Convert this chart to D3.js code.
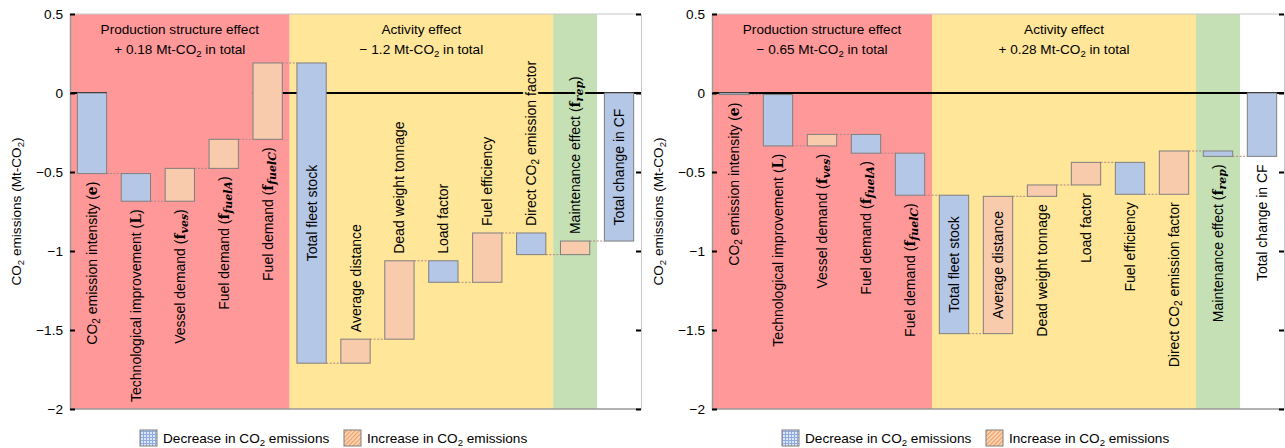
<!DOCTYPE html>
<html>
<head>
<meta charset="utf-8">
<script src="https://cdn.jsdelivr.net/npm/d3@7"></script>
<style>
  body { margin: 0; background: #fff; }
  svg { display: block; font-family: "Liberation Sans", Arial, sans-serif; }
</style>
</head>
<body>
<svg id="chart" width="1285" height="448"></svg>
<script>
// Bar categories, in drawing order (last one is the total bar)
const categories = ["e", "L", "ves", "fuelA", "fuelC", "fleet", "distance", "dwt",
  "load", "fuelEff", "directEF", "maintenance", "total"];

// Label text pieces: [text, style] where style is "" / "sub" / "m" (math bold) / "msub"
const categoryLabels = [
  [["CO"], ["2", "sub"], [" emission intensity ("], ["e", "m"], [")"]],
  [["Technological improvement ("], ["L", "m"], [")"]],
  [["Vessel demand ("], ["f", "m"], ["ves", "msub"], [")"]],
  [["Fuel demand ("], ["f", "m"], ["fuelA", "msub"], [")"]],
  [["Fuel demand ("], ["f", "m"], ["fuelC", "msub"], [")"]],
  [["Total fleet stock"]],
  [["Average distance"]],
  [["Dead weight tonnage"]],
  [["Load factor"]],
  [["Fuel efficiency"]],
  [["Direct CO"], ["2", "sub"], [" emission factor"]],
  [["Maintenance effect ("], ["f", "m"], ["rep", "msub"], [")"]],
  [["Total change in CF"]]
];

// Changes in Mt-CO2, left and right panels
const leftDeltas = [-0.51, -0.175, 0.208, 0.184, 0.483, -1.90, 0.152, 0.496, -0.136, 0.312, -0.137, 0.086];
const rightDeltas = [-0.01, -0.325, 0.073, -0.119, -0.266, -0.876, 0.869, 0.072, 0.143, -0.202, 0.274, -0.034];

const sectionTitles = ["Production structure effect", "Activity effect"];
const leftSectionTotals = ["+ 0.18", "\u2212 1.2"];
const rightSectionTotals = ["\u2212 0.65", "+ 0.28"];

const yTicks = [0.5, 0, -0.5, -1, -1.5, -2];

// where each bar label sits
const leftLabelPos = ["below", "below", "below", "below", "below", "inside",
  "above", "above", "above", "above", "above", "above", "inside"];
const rightLabelPos = ["below", "below", "below", "below", "below", "inside",
  "inside", "below", "below", "below", "below", "below", "below"];

const legendItems = [
  [["Decrease in CO"], ["2", "sub"], [" emissions"]],
  [["Increase in CO"], ["2", "sub"], [" emissions"]]
];

const svg = d3.select("#chart");
const plotTop = 14, plotBottom = 409;
const y = d3.scaleLinear().domain([-2, 0.5]).range([plotBottom, plotTop]);

const RED = "#ff9999", YELLOW = "#ffe699", GREEN = "#c5e0b4";
const BLUE = "#b4c7e7", ORANGE = "#f8cbad";
const FS = 13.6, LFS = 14;

// legend patterns
const defs = svg.append("defs");
const pb = defs.append("pattern").attr("id", "patBlue").attr("width", 3).attr("height", 3)
  .attr("patternUnits", "userSpaceOnUse");
pb.append("rect").attr("width", 3).attr("height", 3).attr("fill", "#8faadc");
pb.append("rect").attr("width", 2).attr("height", 2).attr("fill", "#dde6f5");
const po = defs.append("pattern").attr("id", "patOrange").attr("width", 3).attr("height", 3)
  .attr("patternUnits", "userSpaceOnUse").attr("patternTransform", "rotate(45)");
po.append("rect").attr("width", 3).attr("height", 3).attr("fill", "#fbe0cc");
po.append("rect").attr("width", 1.5).attr("height", 3).attr("fill", "#f4a060");

// add tspans (with subscripts / math italics) to a text selection
function appendSegs(t, segs, baseSize) {
  let shift = 0;
  segs.forEach(([txt, st]) => {
    const ts = t.append("tspan").text(txt);
    const sub = st === "sub" || st === "msub";
    const s = sub ? 3 : 0;
    if (s - shift) ts.attr("dy", s - shift);
    shift = s;
    if (sub) ts.attr("font-size", st === "msub" ? baseSize - 3 : baseSize - 4);
    if (st === "m" || st === "msub") ts.attr("font-family", "'DejaVu Serif', serif").attr("font-weight", "bold");
    if (st === "msub") ts.attr("font-style", "italic");
  });
}

function waterfall(deltas) {
  let cum = 0;
  const rows = deltas.map((d, i) => {
    const start = cum;
    cum += d;
    return { i, start, end: cum, inc: d > 0 };
  });
  rows.push({ i: deltas.length, start: 0, end: cum, inc: false });
  return rows;
}

function bandColor(i) {
  if (i < 5) return RED;
  if (i < 11) return YELLOW;
  if (i < 12) return GREEN;
  return "#fff";
}

function drawPanel(x0, x1, deltas, totals, labelPos, titleBoxH) {
  const g = svg.append("g");
  const x = d3.scaleBand().domain(categories).range([x0, x1])
    .paddingInner(1 / 3).paddingOuter(1 / 6);
  const step = x.step();
  const bandLeft = i => x0 + i * step;

  // effect regions
  const spans = [[0, 5, RED], [5, 11, YELLOW], [11, 12, GREEN]];
  g.selectAll(".region").data(spans).enter().append("rect")
    .attr("x", d => bandLeft(d[0]))
    .attr("y", plotTop)
    .attr("width", d => (d[1] - d[0]) * step)
    .attr("height", plotBottom - plotTop)
    .attr("fill", d => d[2]);

  // zero line
  g.append("line").attr("x1", x0).attr("x2", x1).attr("y1", y(0)).attr("y2", y(0))
    .attr("stroke", "#000").attr("stroke-width", 2);

  // section titles (text boxes with region colour fill)
  [[0, 5], [5, 11]].forEach((s, k) => {
    const cx = (bandLeft(s[0]) + bandLeft(s[1])) / 2;
    g.append("rect").attr("x", cx - 73).attr("y", plotTop + 1).attr("width", 146)
      .attr("height", titleBoxH[k]).attr("fill", spans[k][2]);
    g.append("text").attr("x", cx).attr("y", 34).attr("text-anchor", "middle")
      .attr("font-size", FS).text(sectionTitles[k]);
    const t2 = g.append("text").attr("x", cx).attr("y", 54).attr("text-anchor", "middle")
      .attr("font-size", FS);
    appendSegs(t2, [[totals[k] + " Mt-CO"], ["2", "sub"], [" in total"]], FS);
  });

  const rows = waterfall(deltas);

  // connectors between bars
  g.selectAll(".conn").data(rows.slice(0, -1)).enter().append("line")
    .attr("x1", d => x(categories[d.i]) + x.bandwidth())
    .attr("x2", d => x(categories[d.i + 1]))
    .attr("y1", d => y(d.end)).attr("y2", d => y(d.end))
    .attr("stroke", "#b08585").attr("stroke-width", 1).attr("stroke-dasharray", "2,1.5");

  // bars
  g.selectAll(".bar").data(rows).enter().append("rect")
    .attr("x", d => x(categories[d.i]))
    .attr("y", d => y(Math.max(d.start, d.end)))
    .attr("width", x.bandwidth())
    .attr("height", d => Math.abs(y(d.start) - y(d.end)))
    .attr("fill", d => d.inc ? ORANGE : BLUE)
    .attr("stroke", "#7f7f7f").attr("stroke-width", 1);

  // bar labels
  rows.forEach(d => {
    const cx = x(categories[d.i]) + x.bandwidth() / 2 + 5;
    const yTop = y(Math.max(d.start, d.end)), yBot = y(Math.min(d.start, d.end));
    const pos = labelPos[d.i];
    let ly, anchor;
    if (pos === "below") { ly = yBot + 8; anchor = "end"; }
    else if (pos === "above") { ly = yTop - 7; anchor = "start"; }
    else { ly = (yTop + yBot) / 2; anchor = "middle"; }
    const t = g.append("text")
      .attr("transform", `translate(${cx},${ly}) rotate(-90)`)
      .attr("text-anchor", anchor).attr("font-size", LFS).attr("fill", "#000");
    if (pos !== "inside") {
      t.attr("stroke", bandColor(d.i)).attr("stroke-width", 4)
        .attr("stroke-linejoin", "round").attr("paint-order", "stroke");
    }
    appendSegs(t, categoryLabels[d.i], LFS);
  });

  // frame
  g.append("line").attr("x1", x0).attr("x2", x1).attr("y1", plotTop).attr("y2", plotTop)
    .attr("stroke", "#c8c8c8");
  g.append("line").attr("x1", x0).attr("x2", x1).attr("y1", plotBottom).attr("y2", plotBottom)
    .attr("stroke", "#9a9a9a").attr("stroke-width", 1.5);

  // axes
  const left = g.append("g").attr("transform", `translate(${x0},0)`)
    .call(d3.axisLeft(y).tickValues(yTicks).tickSizeInner(-5).tickSizeOuter(0)
      .tickPadding(7).tickFormat(d3.format("")));
  left.select(".domain").attr("stroke", "#9a9a9a").attr("stroke-width", 1.5);
  left.selectAll(".tick line").attr("stroke", "#000").attr("stroke-width", 2);
  left.selectAll(".tick text").attr("font-size", FS).attr("font-family", "Liberation Sans, Arial, sans-serif");

  const right = g.append("g").attr("transform", `translate(${x1},0)`)
    .call(d3.axisRight(y).tickValues(yTicks).tickSizeInner(-5).tickSizeOuter(0).tickFormat(""));
  right.select(".domain").attr("stroke", "#c8c8c8");
  right.selectAll(".tick line").attr("stroke", "#000").attr("stroke-width", 2);

  // y axis title
  const yt = g.append("text")
    .attr("transform", `translate(${x0 - 49},${(plotTop + plotBottom) / 2}) rotate(-90)`)
    .attr("text-anchor", "middle").attr("font-size", FS);
  appendSegs(yt, [["CO"], ["2", "sub"], [" emissions (Mt-CO"], ["2", "sub"], [")"]], FS);

  // legend
  const lg = g.append("g");
  [70, 274].forEach((off, k) => {
    lg.append("rect").attr("x", x0 + off).attr("y", 430).attr("width", 17).attr("height", 16)
      .attr("fill", k === 0 ? "url(#patBlue)" : "url(#patOrange)")
      .attr("stroke", "#7f7f7f").attr("stroke-width", 1);
    const lt = lg.append("text").attr("x", x0 + off + 23).attr("y", 443).attr("font-size", FS);
    appendSegs(lt, legendItems[k], FS);
  });
}

drawPanel(70, 641, leftDeltas, leftSectionTotals, leftLabelPos, [83, 45]);
drawPanel(712, 1284, rightDeltas, rightSectionTotals, rightLabelPos, [45, 45]);
</script>
</body>
</html>
